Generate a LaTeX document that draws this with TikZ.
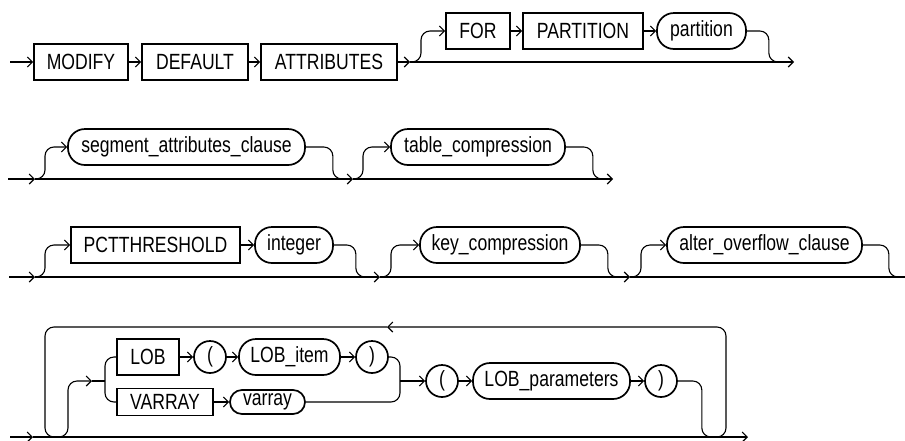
\documentclass[tikz,border=0pt]{standalone}
\usepackage{fontspec}
\setmainfont{Liberation Sans}[FakeStretch=0.8]
\usetikzlibrary{arrows.meta,calc,positioning}
\tikzset{
  kwbox/.style={draw,line width=1.7pt,rectangle,minimum height=36pt,inner sep=0pt,
    font=\fontsize{22pt}{22pt}\selectfont},
  ntbox/.style={kwbox,rounded corners=17pt},
  parbox/.style={draw,line width=1.7pt,circle,minimum size=32pt,inner sep=0pt,
    font=\fontsize{22pt}{22pt}\selectfont},
  conn/.style={line width=1.1pt,rounded corners=9pt},
  arr/.style={-{Straight Barb[length=5pt,width=10pt]}}
}

\begin{document}
\begin{tikzpicture}[x=1pt,y=-1pt]
  \useasboundingbox (0,0) rectangle (905,440);
  % Row 1
  \node[kwbox,minimum width=94pt] (modify) at (81,62) {MODIFY};
  \node[kwbox,minimum width=106pt] (default) at (195,62) {DEFAULT};
  \node[kwbox,minimum width=136pt] (attrs) at (329,62) {ATTRIBUTES};
  \node[kwbox,minimum width=64pt] (for) at (478,31) {FOR};
  \node[kwbox,minimum width=120pt] (partkw) at (583,31) {PARTITION};
  \node[ntbox,minimum width=89pt] (part) at (701.5,31) {partition};
  \coordinate (s1) at (10,62);
  \coordinate (b1) at (410,62);
  \coordinate (e1) at (794,62);
  \draw[conn,arr] (s1) -- (modify);
  \draw[conn,arr] (modify) -- (default);
  \draw[conn,arr] (default) -- (attrs);
  \draw[conn,arr] (attrs) -- (b1);
  \draw[conn,arr] (b1) -- (e1);
  \draw[conn,arr] (b1) -- ++(11,0) |- (for.west);
  \draw[conn,arr] (for) -- (partkw);
  \draw[conn,arr] (partkw) -- (part);
  \draw[conn] (part.east) -- ++(22,0) |- ++(12,31);

  % Row 2
  \node[ntbox,minimum width=237pt] (seg) at (186.5,147) {segment\_attributes\_clause};
  \node[ntbox,minimum width=174pt] (tcomp) at (478,147) {table\_compression};
  \coordinate (s2) at (8,179);
  \coordinate (b21) at (35,179);
  \coordinate (b22) at (353,179);
  \coordinate (e2) at (613,179);
  \draw[conn,arr] (s2) -- (b21);
  \draw[conn,arr] (b21) -- (b22);
  \draw[conn,arr] (b22) -- (e2);
  \draw[conn,arr] (b21) -- ++(10,0) |- (seg.west);
  \draw[conn] (seg.east) -- ++(27,0) |- ++(10,32);
  \draw[conn,arr] (b22) -- ++(10,0) |- (tcomp.west);
  \draw[conn] (tcomp.east) -- ++(27,0) |- ++(10,32);

  % Row 3
  \node[kwbox,minimum width=169pt] (pct) at (155.5,245) {PCTTHRESHOLD};
  \node[ntbox,minimum width=78pt] (int) at (294,245) {integer};
  \node[ntbox,minimum width=160pt] (key) at (500,245) {key\_compression};
  \node[ntbox,minimum width=195pt] (alter) at (764.5,245) {alter\_overflow\_clause};
  \coordinate (s3) at (9,277);
  \coordinate (b31) at (35,277);
  \coordinate (b32) at (380,277);
  \coordinate (b33) at (630,277);
  \coordinate (e3) at (905,277);
  \draw[conn,arr] (s3) -- (b31);
  \draw[conn,arr] (b31) -- (b32);
  \draw[conn,arr] (b32) -- (b33);
  \draw[conn] (b33) -- (e3);
  \draw[conn,arr] (b31) -- ++(10,0) |- (pct.west);
  \draw[conn,arr] (pct) -- (int);
  \draw[conn] (int.east) -- ++(22,0) |- ++(12,32);
  \draw[conn,arr] (b32) -- ++(11,0) |- (key.west);
  \draw[conn] (key.east) -- ++(27,0) |- ++(12,32);
  \draw[conn,arr] (b33) -- ++(11,0) |- (alter.west);
  \draw[conn] (alter.east) -- ++(26,0) |- ++(10,32);

  % Row 4
  \node[kwbox,minimum width=62pt] (lob) at (148,357) {LOB};
  \node[parbox] (lp1) at (210,357) {(};
  \node[ntbox,minimum width=101pt] (lobitem) at (289.5,357) {LOB\_item};
  \node[parbox] (rp1) at (372,357) {)};
  \node[kwbox,minimum width=96pt,minimum height=27pt] (varraykw) at (165,402) {VARRAY};
  \node[ntbox,minimum width=75pt,minimum height=24pt,rounded corners=12pt] (varray) at (267.5,402) {varray};
  \node[parbox] (lp2) at (442,381) {(};
  \node[ntbox,minimum width=157pt] (lobparams) at (551.5,381) {LOB\_parameters};
  \node[parbox] (rp2) at (661,381) {)};
  \coordinate (s4) at (10,437);
  \coordinate (b41) at (33,437);
  \coordinate (e4) at (748,437);
  \coordinate (a4) at (92,381);
  \coordinate (j1) at (105,381);
  \coordinate (j2) at (400,381);
  \coordinate (lt) at (387,327);
  \coordinate (jr) at (713,437);
  \draw[conn,arr] (s4) -- (b41);
  \draw[conn,arr] (b41) -- (e4);
  % repeat loop
  \draw[conn,arr] (jr) -| (726,327) -- (lt);
  \draw[conn,arr] (lt) -| (45,437) -| (68,381) -- (a4);
  \draw[conn] (a4) -- (j1);
  \draw[conn] (lob.west) -| (j1) |- (varraykw.west);
  \draw[conn,arr] (lob) -- (lp1);
  \draw[conn,arr] (lp1) -- (lobitem);
  \draw[conn,arr] (lobitem) -- (rp1);
  \draw[conn,arr] (varraykw) -- (varray);
  \draw[conn] (rp1.east) -| (j2) |- (varray.east);
  \draw[conn,arr] (j2) -- (lp2);
  \draw[conn,arr] (lp2) -- (lobparams);
  \draw[conn,arr] (lobparams) -- (rp2);
  \draw[conn] (rp2.east) -- ++(24,0) |- (jr);
\end{tikzpicture}
\end{document}
